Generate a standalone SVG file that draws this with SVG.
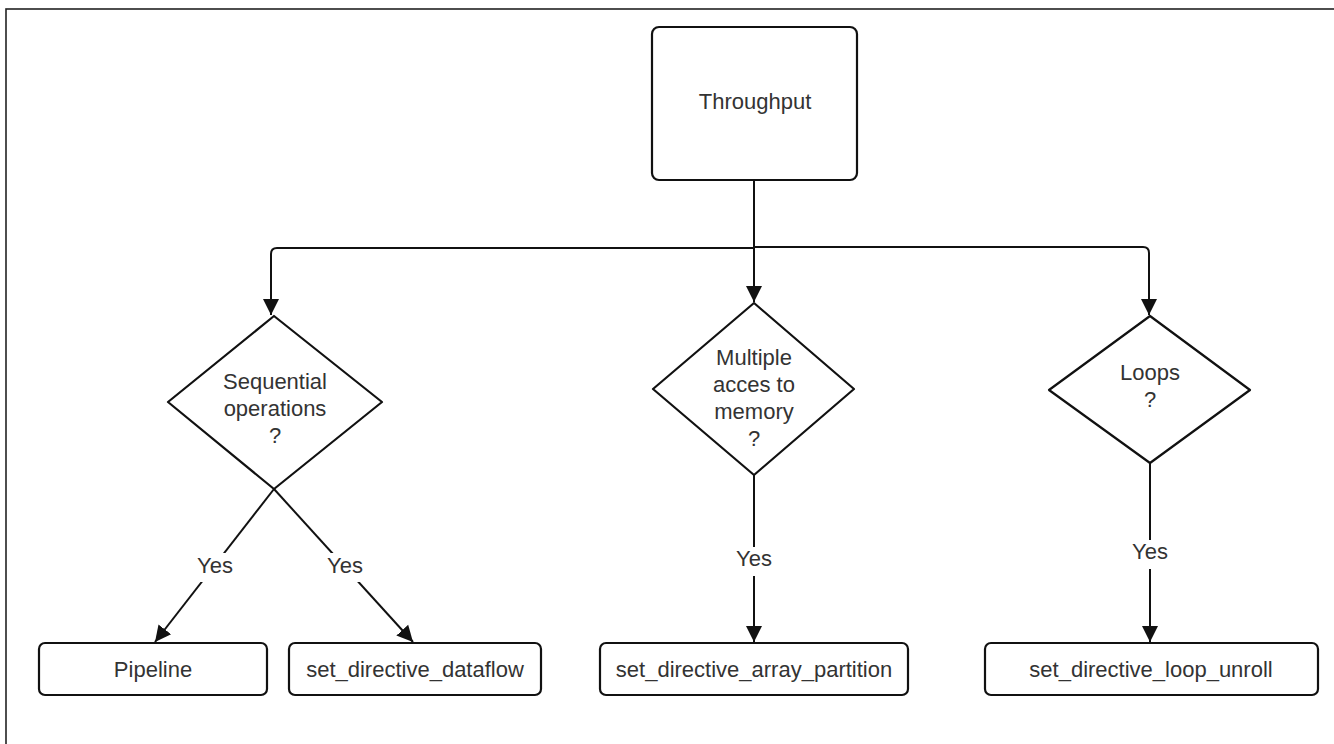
<svg xmlns="http://www.w3.org/2000/svg" width="1334" height="744" viewBox="0 0 1334 744">
  <style>
    .shape { fill: #ffffff; stroke: #111111; stroke-width: 2.2; stroke-linejoin: round; }
    .wire { fill: none; stroke: #111111; stroke-width: 2; }
    .label { font-family: "Liberation Sans", Arial, sans-serif; font-size: 22px; fill: #333333; text-anchor: middle; }
  </style>
  <defs>
    <marker id="arrow" viewBox="0 0 16 20" refX="16" refY="10" markerWidth="16" markerHeight="20" markerUnits="userSpaceOnUse" orient="auto">
      <path d="M0,2 L16,10 L0,18 Z" fill="#111111"/>
    </marker>
  </defs>

  <rect x="6" y="9" width="1340" height="800" fill="#ffffff" stroke="#222222" stroke-width="1.6"/>

  <g id="connectors">
    <path class="wire" d="M754,180 V302" marker-end="url(#arrow)"/>
    <path class="wire" d="M754,248 H277 Q271,248 271,254 V315" marker-end="url(#arrow)"/>
    <path class="wire" d="M754,247 H1143 Q1149,247 1149,253 V315" marker-end="url(#arrow)"/>
    <path class="wire" d="M274,489 L155,642" marker-end="url(#arrow)"/>
    <path class="wire" d="M274,489 L413,642" marker-end="url(#arrow)"/>
    <path class="wire" d="M754,475 V642" marker-end="url(#arrow)"/>
    <path class="wire" d="M1150,463 V642" marker-end="url(#arrow)"/>
    <rect x="192" y="553" width="46" height="29" fill="#ffffff"/>
    <text class="label" x="215" y="573">Yes</text>
    <rect x="322" y="553" width="46" height="29" fill="#ffffff"/>
    <text class="label" x="345" y="573">Yes</text>
    <rect x="731" y="547" width="46" height="29" fill="#ffffff"/>
    <text class="label" x="754" y="566">Yes</text>
    <rect x="1127" y="540" width="46" height="29" fill="#ffffff"/>
    <text class="label" x="1150" y="559">Yes</text>
  </g>

  <g id="throughput">
    <rect class="shape" x="652" y="27" width="205" height="153" rx="7"/>
    <text class="label" x="755" y="109">Throughput</text>
  </g>

  <g id="sequential">
    <polygon class="shape" points="274,316 382,402 274,489 168,402"/>
    <text class="label" x="275" y="389">Sequential</text>
    <text class="label" x="275" y="416">operations</text>
    <text class="label" x="275" y="443">?</text>
  </g>

  <g id="memory">
    <polygon class="shape" points="754,303 854,389 754,475 653,389"/>
    <text class="label" x="754" y="365">Multiple</text>
    <text class="label" x="754" y="392">acces to</text>
    <text class="label" x="754" y="419">memory</text>
    <text class="label" x="754" y="446">?</text>
  </g>

  <g id="loops">
    <polygon class="shape" points="1150,316 1250,390 1150,463 1049,390"/>
    <text class="label" x="1150" y="380">Loops</text>
    <text class="label" x="1150" y="407">?</text>
  </g>

  <g id="pipeline">
    <rect class="shape" x="39" y="643" width="228" height="52" rx="6"/>
    <text class="label" x="153" y="677">Pipeline</text>
  </g>

  <g id="dataflow">
    <rect class="shape" x="289" y="643" width="252" height="52" rx="6"/>
    <text class="label" x="415" y="677">set_directive_dataflow</text>
  </g>

  <g id="array-partition">
    <rect class="shape" x="600" y="643" width="308" height="52" rx="6"/>
    <text class="label" x="754" y="677">set_directive_array_partition</text>
  </g>

  <g id="loop-unroll">
    <rect class="shape" x="985" y="643" width="333" height="52" rx="6"/>
    <text class="label" x="1151" y="677">set_directive_loop_unroll</text>
  </g>
</svg>
